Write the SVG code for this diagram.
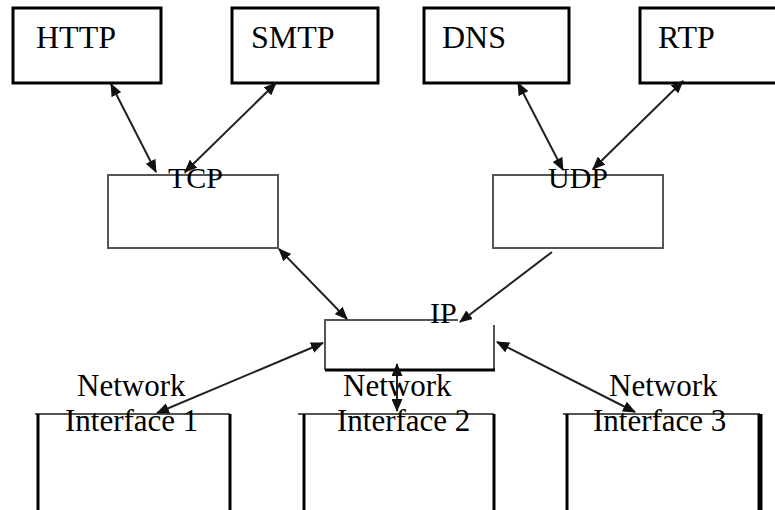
<svg xmlns="http://www.w3.org/2000/svg" width="775" height="510" viewBox="0 0 775 510">
  <style>
    .lbl { font-family: "Liberation Serif", "Times New Roman", serif; font-size: 31px; fill: #000; }
    .top { font-size: 32px; }
    .midl { font-size: 30px; }
    .app { fill: #fff; stroke: #000; stroke-width: 3; }
    .mid { fill: none; stroke: #555; stroke-width: 2; }
    .thick { fill: none; stroke: #000; stroke-width: 3; }
    .edge { fill: none; stroke: #222; stroke-width: 2; }
  </style>
  <defs>
    <marker id="head" viewBox="0 0 13 11" refX="12" refY="5.5" markerWidth="13" markerHeight="11" markerUnits="userSpaceOnUse" orient="auto-start-reverse">
      <path d="M0,0 L13,5.5 L0,11 Z" fill="#111"/>
    </marker>
  </defs>

  <rect width="775" height="510" fill="#fff"/>

  <!-- application layer -->
  <g id="http">
    <rect class="app" x="13" y="8" width="148" height="75"/>
    <text class="lbl top" x="36" y="48">HTTP</text>
  </g>
  <g id="smtp">
    <rect class="app" x="232" y="8" width="146" height="75"/>
    <text class="lbl top" x="251" y="48">SMTP</text>
  </g>
  <g id="dns">
    <rect class="app" x="424" y="8" width="145" height="75"/>
    <text class="lbl top" x="442" y="48">DNS</text>
  </g>
  <g id="rtp">
    <rect class="app" x="640" y="8" width="145" height="75"/>
    <text class="lbl top" x="658" y="48">RTP</text>
  </g>

  <!-- transport layer -->
  <g id="tcp">
    <rect class="mid" x="108" y="175" width="170" height="73"/>
    <text class="lbl midl" x="168" y="188">TCP</text>
  </g>
  <g id="udp">
    <rect class="mid" x="493" y="175" width="170" height="73"/>
    <text class="lbl midl" x="548" y="188">UDP</text>
  </g>

  <!-- network layer -->
  <g id="ip">
    <path class="mid" d="M325,370 V320 H458 M494,325 V370"/>
    <path class="thick" d="M325,370 H495"/>
    <text class="lbl midl" x="430" y="323">IP</text>
  </g>

  <!-- link layer -->
  <g id="netif1">
    <path class="mid" d="M35,414 H230"/>
    <path class="thick" d="M38,414 V510 M230,414 V510"/>
    <text class="lbl" x="77" y="396">Network</text>
    <text class="lbl" x="65" y="431">Interface 1</text>
  </g>
  <g id="netif2">
    <path class="mid" d="M298,414 H494"/>
    <path class="thick" d="M304,414 V510 M494,414 V510"/>
    <text class="lbl" x="343" y="396">Network</text>
    <text class="lbl" x="337" y="431">Interface 2</text>
  </g>
  <g id="netif3">
    <path class="mid" d="M563,414 H760"/>
    <path class="thick" d="M567,414 V510"/>
    <path d="M760,414 V510" fill="none" stroke="#000" stroke-width="5"/>
    <text class="lbl" x="609" y="396">Network</text>
    <text class="lbl" x="593" y="431">Interface 3</text>
  </g>

  <!-- connectors -->
  <g id="connectors">
    <line class="edge" x1="111" y1="84" x2="156" y2="172" marker-start="url(#head)" marker-end="url(#head)"/>
    <line class="edge" x1="276" y1="83" x2="185" y2="172" marker-start="url(#head)" marker-end="url(#head)"/>
    <line class="edge" x1="518" y1="83" x2="563" y2="170" marker-start="url(#head)" marker-end="url(#head)"/>
    <line class="edge" x1="683" y1="81" x2="593" y2="169" marker-start="url(#head)" marker-end="url(#head)"/>
    <line class="edge" x1="279" y1="249" x2="347" y2="319" marker-start="url(#head)" marker-end="url(#head)"/>
    <line class="edge" x1="552" y1="252" x2="460" y2="322" marker-end="url(#head)"/>
    <line class="edge" x1="323" y1="343" x2="157" y2="413" marker-start="url(#head)" marker-end="url(#head)"/>
    <line class="edge" x1="397" y1="364" x2="397" y2="411" marker-start="url(#head)" marker-end="url(#head)"/>
    <line class="edge" x1="497" y1="342" x2="635" y2="412" marker-start="url(#head)" marker-end="url(#head)"/>
  </g>
</svg>
